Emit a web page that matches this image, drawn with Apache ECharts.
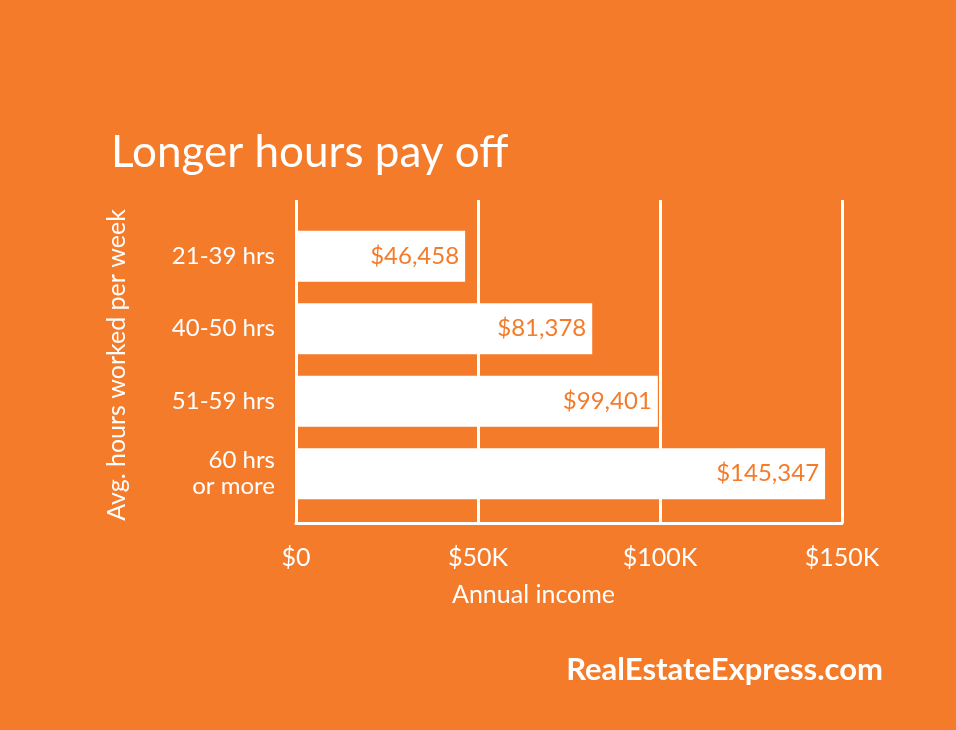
<!DOCTYPE html><html><head><meta charset="utf-8"><script src="https://cdn.jsdelivr.net/npm/echarts@6/dist/echarts.min.js"></script>
<style>html,body{margin:0;background:#F47B2A}#c{width:956px;height:730px}</style></head><body><div id="c"></div><script>
const categories=['21-39 hrs','40-50 hrs','51-59 hrs','60 hrs\nor more'];
const values=[46458,81378,99401,145347];
const tickLabels={0:'$0',50000:'$50K',100000:'$100K',150000:'$150K'};
const O='#F47B2A',F='Lato';
const c=echarts.init(document.getElementById('c'));
c.setOption({backgroundColor:O,
title:{text:'Longer hours pay off',left:106,top:126,textStyle:{color:'#fff',fontSize:44,fontWeight:'normal',fontFamily:F}},
graphic:[{type:'text',right:73,top:654,style:{text:'RealEstateExpress.com',fill:'#fff',font:'bold 31px '+F}},
{type:'text',left:452,top:582,style:{text:'Annual income',fill:'#fff',font:'25px '+F}}],
grid:[{left:296,right:114,top:220,bottom:220},{left:296,right:114,top:200,bottom:207}],
xAxis:[{gridIndex:0,type:'value',min:0,max:150000,interval:50000,show:false},
{gridIndex:1,type:'value',min:0,max:150000,interval:50000,axisLine:{show:true,lineStyle:{color:'#fff',width:3}},axisTick:{show:false},
splitLine:{show:true,lineStyle:{color:'#fff',width:3}},axisLabel:{color:'#fff',fontSize:25,fontFamily:F,margin:22,formatter:v=>tickLabels[v]}}],
yAxis:[{gridIndex:0,type:'category',data:categories,inverse:true,axisLine:{show:false},axisTick:{show:false},
axisLabel:{color:'#fff',fontSize:24,fontFamily:F,margin:21,lineHeight:26},
name:'Avg. hours worked per week',nameLocation:'middle',nameGap:167,nameTextStyle:{color:'#fff',fontSize:25,fontFamily:F}},
{gridIndex:1,type:'value',show:false}],
series:[{type:'bar',xAxisIndex:0,yAxisIndex:0,data:values,barWidth:51,itemStyle:{color:'#fff'},z:5,
label:{show:true,position:'insideRight',distance:6,color:O,fontSize:24,fontFamily:F,formatter:p=>'$'+p.value.toLocaleString('en-US')}}]});
</script></body></html>
